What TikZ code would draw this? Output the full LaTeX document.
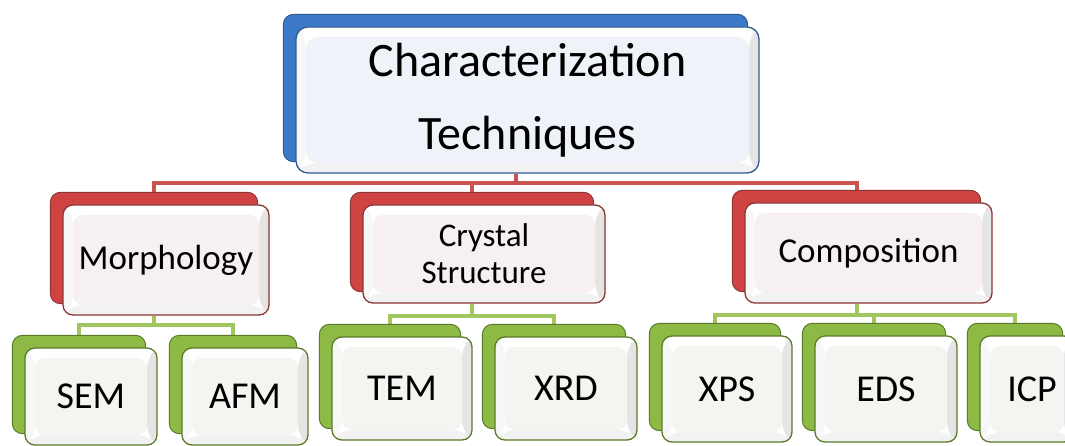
\documentclass[tikz,border=0pt]{standalone}
\usepackage{fontspec}
\setmainfont{Carlito}
\definecolor{bluebk}{HTML}{3C79C8}
\definecolor{bluebd}{HTML}{2E5C92}
\definecolor{bluetn}{HTML}{EFF2F8}
\definecolor{redbk}{HTML}{D04343}
\definecolor{redbd}{HTML}{8B3434}
\definecolor{redtn}{HTML}{F7F0F0}
\definecolor{redln}{HTML}{CC5252}
\definecolor{grnbk}{HTML}{8DBA45}
\definecolor{grnbd}{HTML}{5A7A28}
\definecolor{grntn}{HTML}{F4F5F0}
\definecolor{grnln}{HTML}{A0C660}
\pgfdeclarelayer{lines}
\pgfdeclarelayer{backs}
\pgfsetlayers{lines,backs,main}
\tikzset{
  front/.style n args={2}{rounded corners=#2, draw=#1bd, line width=1.3pt,
    inner sep=0pt, align=center, text=black,
    path picture={
      \coordinate (pa) at (path picture bounding box.north west);
      \coordinate (pb) at (path picture bounding box.north east);
      \coordinate (pc) at (path picture bounding box.south east);
      \coordinate (pd) at (path picture bounding box.south west);
      \coordinate (ia) at ([shift={(10pt,-10pt)}]pa);
      \coordinate (ib) at ([shift={(-10pt,-10pt)}]pb);
      \coordinate (ic) at ([shift={(-10pt,10pt)}]pc);
      \coordinate (id) at ([shift={(10pt,10pt)}]pd);
      \fill[white] (pa) rectangle (pc);
      \fill[black!10] (pb) -- (pc) -- (ic) -- (ib) -- cycle;
      \fill[black!5] (pc) -- (pd) -- (id) -- (ic) -- cycle;
      \fill[black!3] (pa) -- (pd) -- (id) -- (ia) -- cycle;
      \fill[#1tn] (ia) rectangle (ic);}},
  topbox/.style={front={blue}{12pt}, font=\fontsize{48}{73}\selectfont},
  midbox/.style={front={red}{10pt}, font=\fontsize{35}{37}\selectfont},
  lowbox/.style={front={grn}{10pt}, font=\fontsize{38}{44}\selectfont},
  backbox/.style={rounded corners=10pt, fill=#1bk, draw=#1bd, line width=1pt},
  redline/.style={draw=redln, line width=4pt},
  grnline/.style={draw=grnln, line width=4pt},
}
\begin{document}
\begin{tikzpicture}[x=1pt,y=-1pt]
\useasboundingbox (0,0) rectangle (1065,446);
\clip (0,0) rectangle (1065,446);
% front boxes
\node[topbox, minimum width=463pt, minimum height=146pt] (top) at (527.5,100) {Characterization\\Techniques};
\node[midbox, minimum width=206pt, minimum height=110pt] (morph) at (166,260) {Morphology};
\node[midbox, minimum width=242pt, minimum height=98pt, font=\fontsize{33}{37}\selectfont] (cryst) at (484,254) {Crystal\\Structure};
\node[midbox, minimum width=247pt, minimum height=100pt] (comp) at (868.5,253) {Composition};
\node[lowbox, minimum width=132pt, minimum height=97pt] (sem) at (91,396.5) {SEM};
\node[lowbox, minimum width=126pt, minimum height=97pt] (afm) at (245,396.5) {AFM};
\node[lowbox, minimum width=140pt, minimum height=103pt] (tem) at (402,388.5) {TEM};
\node[lowbox, minimum width=142pt, minimum height=103pt] (xrd) at (566,388.5) {XRD};
\node[lowbox, minimum width=130pt, minimum height=106pt] (xps) at (727,389) {XPS};
\node[lowbox, minimum width=142pt, minimum height=106pt] (eds) at (886,389) {EDS};
\node[lowbox, minimum width=94pt, minimum height=106pt] (icp) at (1027,389) {\hspace*{10pt}ICP};
% back boxes
\begin{pgfonlayer}{backs}
\foreach \n/\c in {top/blue,morph/red,cryst/red,comp/red,sem/grn,afm/grn,tem/grn,xrd/grn,xps/grn,eds/grn,icp/grn}
  \draw[backbox=\c] ([shift={(-12pt,12pt)}]\n.north west) rectangle ([shift={(-12pt,12pt)}]\n.south east);
\end{pgfonlayer}
% connectors
\begin{pgfonlayer}{lines}
\coordinate (rh) at (0,183);
\draw[redline] ([xshift=-12pt]top.south) -- ([xshift=-12pt]top.south |- rh);
\draw[redline] ([xshift=-12pt]morph.north) |- ([xshift=-12pt]comp.north |- rh) -- ([xshift=-12pt]comp.north);
\draw[redline] ([xshift=-12pt]cryst.north) -- ([xshift=-12pt]cryst.north |- rh);
\coordinate (gm) at (0,325);
\draw[grnline] ([xshift=-12pt]morph.south) -- ([xshift=-12pt]morph.south |- gm);
\draw[grnline] ([xshift=-12pt]sem.north) |- ([xshift=-12pt]afm.north |- gm) -- ([xshift=-12pt]afm.north);
\coordinate (gc) at (0,316);
\draw[grnline] ([xshift=-12pt]cryst.south) -- ([xshift=-12pt]cryst.south |- gc);
\draw[grnline] ([xshift=-12pt]tem.north) |- ([xshift=-12pt]xrd.north |- gc) -- ([xshift=-12pt]xrd.north);
\coordinate (gp) at (0,315);
\draw[grnline] ([xshift=-12pt]comp.south) -- ([xshift=-12pt]comp.south |- gp);
\draw[grnline] ([xshift=-12pt]xps.north) |- ([xshift=-12pt]icp.north |- gp) -- ([xshift=-12pt]icp.north);
\draw[grnline] ([xshift=-12pt]eds.north) -- ([xshift=-12pt]eds.north |- gp);
\end{pgfonlayer}
\end{tikzpicture}
\end{document}
